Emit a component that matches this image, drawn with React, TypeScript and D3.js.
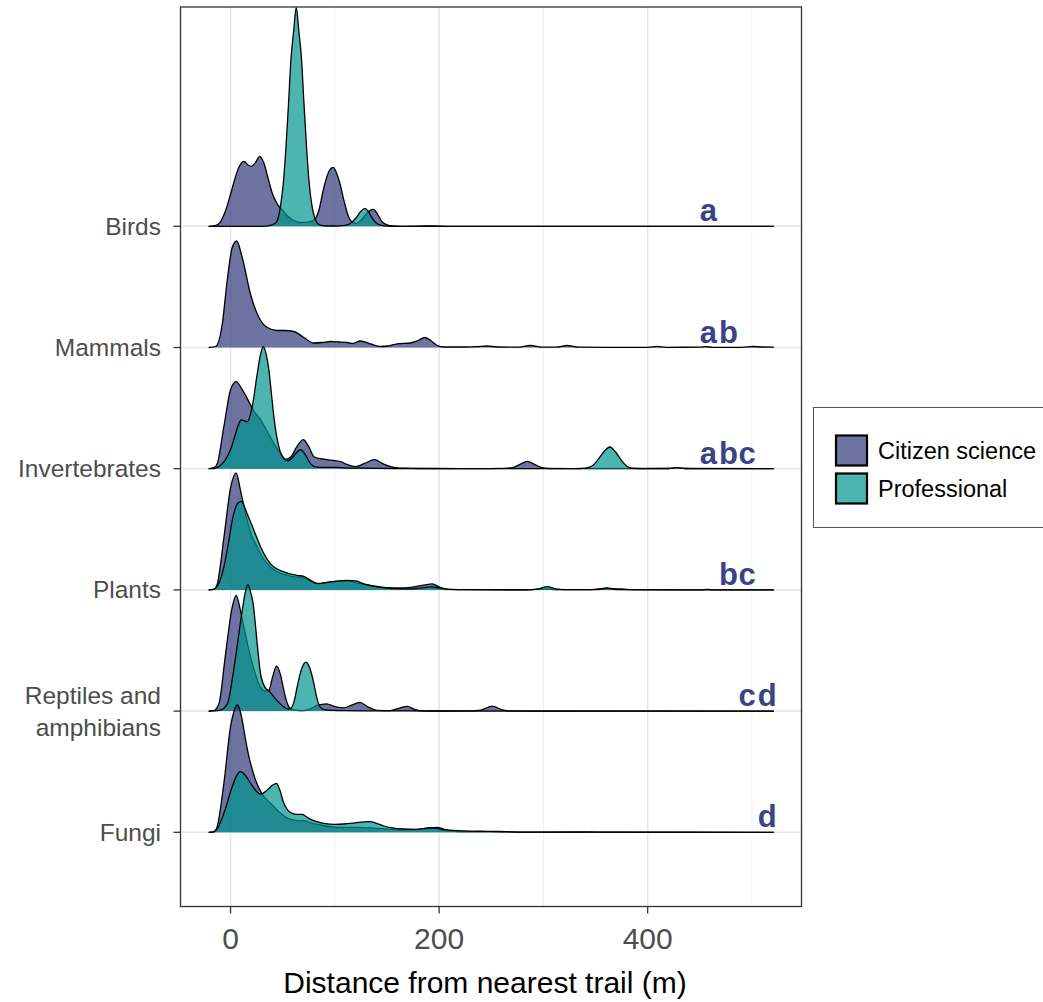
import React from "react";
import * as d3 from "d3";

type Pt = [number, number];

// Ridge categories, top to bottom
const categories = ["Birds", "Mammals", "Invertebrates", "Plants", "Reptiles and amphibians", "Fungi"];
const categoryLines = [["Birds"], ["Mammals"], ["Invertebrates"], ["Plants"], ["Reptiles and", "amphibians"], ["Fungi"]];
const groups = ["Citizen science", "Professional"];
const groupColors = ["#31387A", "#00958E"];
// Compact letter display of pairwise differences
const letters = ["a", "ab", "abc", "bc", "cd", "d"];
const xTicks = [0, 200, 400];
const xMinorTicks = [100, 300, 500];

// Density curves: [distance (m), relative density]
const birdsCitizen: Pt[] = [[-21,0],[-14,0.01],[-10,0.04],[-5,0.15],[0,0.32],[4,0.47],[8,0.59],[12.8,0.65],[17,0.61],[20,0.6],[24,0.64],[28,0.7],[32,0.63],[36,0.48],[40,0.33],[45,0.22],[50,0.16],[55,0.1],[60,0.06],[66,0.04],[72,0.04],[77,0.05],[81.5,0.08],[84.7,0.16],[89.5,0.39],[94,0.54],[98.4,0.59],[104,0.46],[108.7,0.26],[113,0.1],[117,0.04],[121,0.03],[125,0.06],[130,0.12],[134,0.16],[137,0.17],[141,0.12],[145,0.05],[150,0.015],[156,0.003],[165,0],[185,0.003],[192,0.005],[200,0.002],[215,0],[521,0]];
const birdsProfessional: Pt[] = [[-21,0],[30,0],[38,0.01],[43,0.03],[45.5,0.08],[48,0.21],[50.5,0.42],[53,0.77],[55.5,1.21],[58,1.68],[60.5,1.95],[63,2.19],[65.5,1.95],[68,1.68],[70.5,1.21],[73,0.77],[75.5,0.42],[78,0.21],[80.5,0.09],[83,0.035],[87,0.01],[92,0.003],[100,0.003],[110,0.01],[115,0.03],[120,0.08],[125,0.15],[128.8,0.18],[132,0.15],[136,0.08],[140,0.03],[145,0.01],[150,0.002],[160,0],[521,0]];
const mammalsCitizen: Pt[] = [[-21,0],[-14.4,0.01],[-8,0.23],[-3.2,0.67],[1.6,1.0],[5.8,1.065],[11.2,0.9],[19.2,0.53],[27.2,0.3],[35.2,0.2],[44.8,0.17],[52,0.17],[60.7,0.16],[70.3,0.1],[79.9,0.045],[88,0.05],[95.9,0.06],[104,0.055],[111.9,0.05],[116.7,0.04],[124.6,0.065],[134.2,0.035],[143.8,0.01],[151,0.015],[159.8,0.037],[172.6,0.045],[180,0.07],[186.3,0.1],[192,0.07],[198.2,0.02],[204.5,0.005],[223.7,0.005],[236,0.008],[246,0.015],[256,0.005],[275,0.003],[287.6,0.02],[300,0.003],[312,0.003],[322.8,0.02],[334,0.003],[360,0.002],[400,0.002],[409,0.01],[418,0.002],[450,0.003],[456,0.008],[462,0.002],[490,0.002],[501,0.01],[510,0.005],[521,0.004]];
const invertebratesCitizen: Pt[] = [[-21,0],[-16,0.01],[-12.8,0.05],[-6.4,0.42],[0,0.79],[5.4,0.87],[11.2,0.79],[17.6,0.67],[22,0.58],[28.8,0.49],[38.4,0.31],[48,0.15],[52.7,0.094],[58,0.12],[63,0.21],[69.7,0.29],[75,0.22],[79.9,0.12],[86,0.1],[92.7,0.09],[100,0.08],[105.5,0.07],[112,0.04],[119.8,0.02],[128,0.05],[138,0.09],[146,0.05],[153.4,0.02],[160,0.008],[166,0.005],[180,0.002],[200,0.002],[240,0.001],[262,0.003],[270,0.01],[277,0.04],[284.5,0.073],[292,0.04],[298.8,0.01],[305,0.002],[330,0.001],[420,0.002],[428,0.008],[436,0.002],[521,0]];
const invertebratesProfessional: Pt[] = [[-21,0],[-16,0.001],[-10,0.03],[-3.2,0.12],[1,0.22],[4.8,0.35],[10.2,0.487],[13,0.48],[16,0.47],[20.8,0.62],[25.6,0.95],[28.5,1.13],[31.3,1.22],[34,1.15],[36.7,0.99],[39,0.77],[41.5,0.52],[46.3,0.22],[51.1,0.1],[55,0.08],[60,0.12],[64,0.17],[67.1,0.19],[71,0.15],[76.7,0.05],[83,0.015],[95,0.013],[102,0.013],[110,0.008],[125,0.005],[140,0.003],[160,0.002],[200,0.001],[330,0],[340,0.005],[347,0.03],[353,0.1],[358,0.17],[363.7,0.217],[369,0.17],[375,0.08],[380,0.025],[385,0.005],[395,0],[420,0.002],[428,0.01],[436,0.002],[450,0],[521,0]];
const plantsCitizen: Pt[] = [[-21,0],[-16,0.005],[-12.8,0.057],[-6.4,0.52],[0,1.02],[5.4,1.17],[9.6,0.99],[16,0.695],[20,0.55],[25.6,0.43],[31,0.32],[38.4,0.23],[45,0.18],[54.3,0.145],[62,0.13],[70.3,0.12],[76,0.09],[83,0.06],[90,0.07],[102,0.085],[115,0.085],[125,0.06],[134,0.045],[143,0.03],[153,0.02],[163,0.02],[172.6,0.025],[184,0.045],[193.4,0.06],[200,0.03],[207.8,0.005],[230,0.002],[280,0.001],[295,0.005],[303.6,0.01],[312,0.003],[340,0.002],[352,0.008],[361,0.02],[369,0.01],[375,0.01],[385,0.002],[450,0.001],[457,0.005],[465,0.001],[521,0]];
const plantsProfessional: Pt[] = [[-21,0],[-17.6,0.002],[-12,0.05],[-6.4,0.23],[-2,0.47],[1.6,0.695],[6.4,0.86],[10.2,0.885],[16,0.76],[22.4,0.595],[28.8,0.43],[38.4,0.26],[51.1,0.18],[64,0.145],[70.3,0.135],[76,0.1],[83,0.065],[95.9,0.08],[111.9,0.095],[120,0.09],[127.8,0.06],[143.8,0.025],[166,0.01],[180,0.015],[193,0.03],[200,0.02],[210,0.005],[230,0.002],[285,0.001],[295,0.01],[303.6,0.033],[312,0.01],[320,0.002],[350,0.003],[361,0.015],[372,0.003],[400,0.001],[521,0]];
const reptilesCitizen: Pt[] = [[-21,0],[-16,0.005],[-11.2,0.07],[-4.8,0.57],[1.6,1.04],[5.4,1.157],[9.6,1.0],[14,0.78],[19.2,0.54],[23,0.4],[27.2,0.27],[31,0.21],[34,0.2],[36.8,0.207],[40,0.33],[44.1,0.45],[48,0.36],[51.1,0.207],[54,0.09],[57.5,0.025],[62,0.01],[70,0.005],[76,0.02],[83,0.057],[92,0.073],[100,0.045],[108.6,0.033],[116,0.06],[124,0.087],[132,0.04],[140.6,0.007],[153,0.005],[162,0.03],[169.4,0.047],[176,0.02],[182,0.003],[200,0.001],[230,0.002],[240,0.01],[251,0.05],[260,0.015],[268,0.002],[300,0.001],[521,0]];
const reptilesProfessional: Pt[] = [[-21,0],[-16,0.002],[-10,0.01],[-3.2,0.07],[4.8,0.54],[11.2,1.007],[14,1.18],[16.6,1.264],[19,1.2],[21.7,1.07],[25.6,0.67],[28.8,0.37],[32.9,0.24],[37,0.2],[41,0.15],[45,0.1],[50,0.05],[55,0.02],[58,0.03],[61,0.1],[64,0.25],[68,0.42],[72.5,0.49],[76,0.43],[80,0.27],[83,0.12],[86,0.04],[90,0.015],[95,0.01],[110,0.005],[140,0.002],[200,0.001],[521,0]];
const fungiCitizen: Pt[] = [[-21,0],[-16,0.005],[-12.8,0.057],[-6.4,0.49],[0,1.056],[3,1.2],[6.4,1.273],[9,1.22],[11.2,1.12],[14,0.95],[17.6,0.756],[21,0.62],[24,0.52],[30.4,0.38],[38.4,0.29],[48,0.19],[55,0.14],[60.7,0.123],[66,0.115],[70.3,0.117],[76,0.1],[86.3,0.073],[102.3,0.05],[121.5,0.05],[140.6,0.04],[155,0.03],[166,0.023],[180,0.03],[190,0.045],[198,0.05],[205,0.03],[214,0.01],[230,0.007],[250,0.006],[262,0.004],[280,0.002],[300,0.001],[340,0.003],[350,0.001],[521,0]];
const fungiProfessional: Pt[] = [[-21,0],[-17.6,0.002],[-12,0.05],[-6.4,0.19],[1.6,0.456],[6,0.57],[9.6,0.606],[14,0.57],[19.2,0.49],[24,0.42],[28.1,0.383],[31,0.39],[35.2,0.423],[40,0.47],[44.1,0.49],[47,0.43],[51.1,0.29],[55,0.22],[59.2,0.19],[64,0.18],[68.7,0.18],[72,0.16],[76.7,0.13],[82,0.11],[89.5,0.09],[100,0.08],[108.6,0.083],[120,0.095],[128,0.105],[134.2,0.106],[140,0.09],[147,0.063],[155,0.045],[166,0.033],[178,0.03],[191.8,0.043],[198,0.04],[205,0.025],[217.3,0.017],[230,0.012],[246,0.01],[258,0.008],[268,0.004],[280,0.001],[340,0.001],[346,0.004],[352,0.001],[521,0]];

// Drawing order: each ridge from top to bottom, citizen science first
const ridges: { category: string; group: number; values: Pt[] }[] = [
  { category: "Birds", group: 0, values: birdsCitizen },
  { category: "Birds", group: 1, values: birdsProfessional },
  { category: "Mammals", group: 0, values: mammalsCitizen },
  { category: "Invertebrates", group: 0, values: invertebratesCitizen },
  { category: "Invertebrates", group: 1, values: invertebratesProfessional },
  { category: "Plants", group: 0, values: plantsCitizen },
  { category: "Plants", group: 1, values: plantsProfessional },
  { category: "Reptiles and amphibians", group: 0, values: reptilesCitizen },
  { category: "Reptiles and amphibians", group: 1, values: reptilesProfessional },
  { category: "Fungi", group: 0, values: fungiCitizen },
  { category: "Fungi", group: 1, values: fungiProfessional },
];

const FONT = "'Liberation Sans', Arial, Helvetica, sans-serif";

export default function App() {
  const W = 1043;
  const H = 1002;
  const panel = { left: 180.5, right: 801.5, top: 7, bottom: 906.5 };

  const x = d3.scaleLinear().domain([-48, 547.5]).range([panel.left, panel.right]);
  const y = d3.scalePoint<string>().domain(categories).range([226.3, 832.3]);
  const h = d3.scaleLinear().domain([0, 1]).range([0, 100]);

  const areaFor = (base: number) =>
    d3.area<Pt>().x((d) => x(d[0])).y0(base).y1((d) => base - h(d[1])).curve(d3.curveMonotoneX);
  const lineFor = (base: number) =>
    d3.line<Pt>().x((d) => x(d[0])).y((d) => base - h(d[1])).curve(d3.curveMonotoneX);

  const letterStart = x(450);
  const letterStep = 19.3;

  return (
    <svg width={W} height={H} style={{ position: "absolute", left: 0, top: 0, background: "#fff" }}>
      <defs>
        <clipPath id="panel-clip">
          <rect x={panel.left} y={panel.top} width={panel.right - panel.left} height={panel.bottom - panel.top} />
        </clipPath>
      </defs>
      <rect x={0} y={0} width={W} height={H} fill="#fff" />

      {/* grid */}
      <g clipPath="url(#panel-clip)">
        {xMinorTicks.map((t) => (
          <line key={"mn" + t} x1={x(t)} x2={x(t)} y1={panel.top} y2={panel.bottom} stroke="#EFEFEF" strokeWidth={1} />
        ))}
        {xTicks.map((t) => (
          <line key={"mj" + t} x1={x(t)} x2={x(t)} y1={panel.top} y2={panel.bottom} stroke="#E6E6E6" strokeWidth={1.6} />
        ))}
        {categories.map((c) => (
          <line key={"hy" + c} x1={panel.left} x2={panel.right} y1={y(c)!} y2={y(c)!} stroke="#E6E6E6" strokeWidth={1.6} />
        ))}
      </g>

      {/* ridgelines */}
      <g clipPath="url(#panel-clip)">
        {ridges.map((r, i) => {
          const base = y(r.category)!;
          return (
            <g key={i}>
              <path d={areaFor(base)(r.values) || ""} fill={groupColors[r.group]} fillOpacity={0.7} stroke="none" />
              <path d={lineFor(base)(r.values) || ""} fill="none" stroke="#000" strokeWidth={1.3} strokeLinejoin="round" />
            </g>
          );
        })}
      </g>

      {/* group letters */}
      {letters.map((lab, i) => {
        const base = y(categories[i])! - 5;
        return (
          <text key={"lt" + i} y={base} fontFamily={FONT} fontWeight="bold" fontSize={31} fill="#3A4388">
            {lab.split("").map((ch, j) => (
              <tspan key={j} x={letterStart + "abcd".indexOf(ch) * letterStep}>{ch}</tspan>
            ))}
          </text>
        );
      })}

      {/* panel border */}
      <rect x={panel.left} y={panel.top} width={panel.right - panel.left} height={panel.bottom - panel.top} fill="none" stroke="#333" strokeWidth={1.3} />

      {/* y axis */}
      {categories.map((c, i) => {
        const cy = y(c)!;
        const lines = categoryLines[i];
        const lh = 32;
        return (
          <g key={"ya" + c}>
            <line x1={panel.left - 7} x2={panel.left} y1={cy} y2={cy} stroke="#333" strokeWidth={1.3} />
            <text x={161} textAnchor="end" fontFamily={FONT} fontSize={24.5} fill="#4D4D4D">
              {lines.map((t, j) => (
                <tspan key={j} x={161} y={cy + (j - (lines.length - 1) / 2) * lh} dominantBaseline="central">{t}</tspan>
              ))}
            </text>
          </g>
        );
      })}

      {/* x axis */}
      {xTicks.map((t) => (
        <g key={"xa" + t}>
          <line x1={x(t)} x2={x(t)} y1={panel.bottom} y2={panel.bottom + 7} stroke="#333" strokeWidth={1.3} />
          <text x={x(t)} y={949} textAnchor="middle" fontFamily={FONT} fontSize={30} fill="#4D4D4D">{t}</text>
        </g>
      ))}
      <text x={485} y={993} textAnchor="middle" fontFamily={FONT} fontSize={30} fill="#000">
        Distance from nearest trail (m)
      </text>

      {/* legend */}
      <rect x={813.5} y={407.5} width={240} height={120} fill="#fff" stroke="#555" strokeWidth={1} />
      {groups.map((g, i) => (
        <g key={"lg" + g}>
          <rect x={836} y={435.5 + i * 38} width={31} height={30} fill={groupColors[i]} fillOpacity={0.7} stroke="#000" strokeWidth={2.2} />
          <text x={878} y={459 + i * 37.5} fontFamily={FONT} fontSize={23.5} fill="#000">{g}</text>
        </g>
      ))}
    </svg>
  );
}
